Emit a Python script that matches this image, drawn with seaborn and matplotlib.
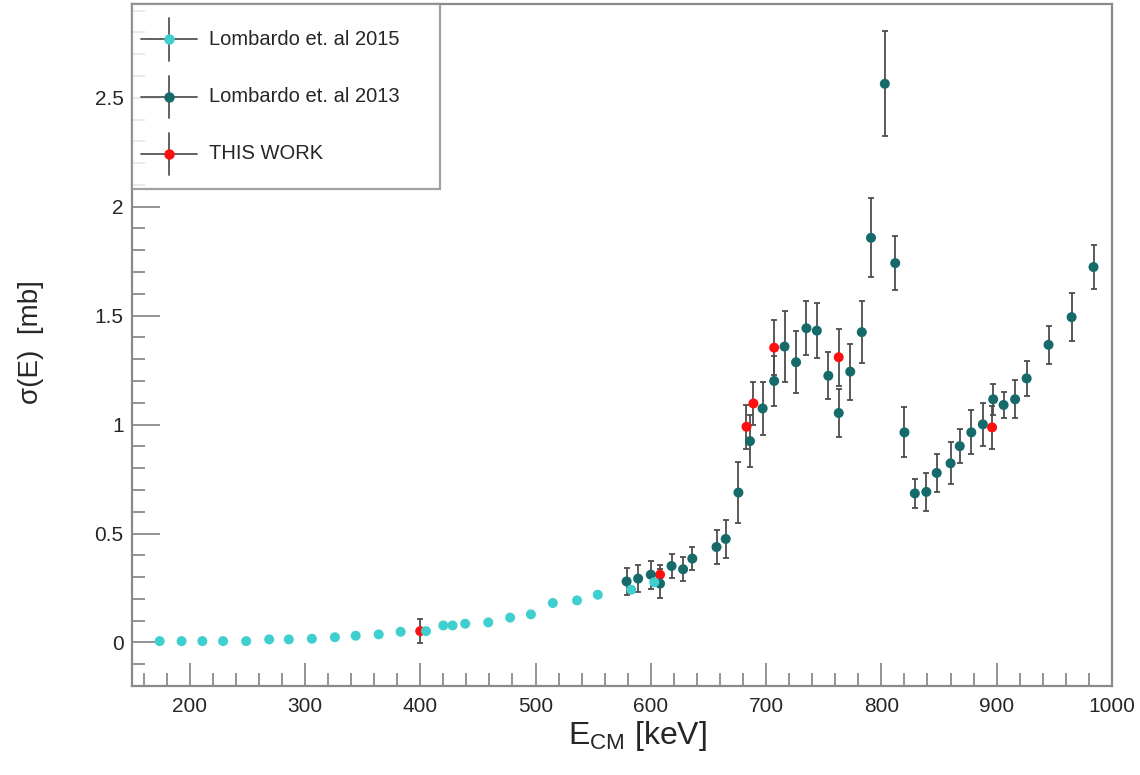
import numpy as np
import pandas as pd
import matplotlib
matplotlib.use("Agg")
import matplotlib.pyplot as plt
from matplotlib.lines import Line2D
from matplotlib.legend_handler import HandlerBase
from matplotlib.ticker import MultipleLocator
import seaborn as sns

# ---- data: cross section sigma(E) in mb vs centre-of-mass energy in keV ----
# Lombardo et. al 2015
e_2015 = [174, 193, 211, 229, 249, 269, 286, 306, 326, 344, 364, 383,
          405, 420, 428, 439, 459, 478, 496, 515, 536, 554, 583, 603]
sig_2015 = [0.006, 0.006, 0.006, 0.006, 0.006, 0.014, 0.014, 0.017, 0.024, 0.031, 0.037, 0.049,
            0.052, 0.078, 0.078, 0.086, 0.092, 0.114, 0.129, 0.181, 0.193, 0.219, 0.242, 0.276]
err_2015 = [0.001, 0.001, 0.001, 0.001, 0.001, 0.002, 0.002, 0.002, 0.002, 0.003, 0.003, 0.004,
            0.004, 0.005, 0.005, 0.005, 0.006, 0.007, 0.008, 0.010, 0.011, 0.012, 0.013, 0.015]

# Lombardo et. al 2013
e_2013 = [579, 589, 600, 608, 618, 628, 636, 657, 665, 676, 686, 697, 707, 716,
          726, 735, 744, 754, 763, 773, 783, 791, 803, 812, 820, 829, 839, 848,
          860, 868, 878, 888, 897, 906, 916, 926, 945, 965, 984]
sig_2013 = [0.280, 0.293, 0.311, 0.270, 0.351, 0.336, 0.385, 0.438, 0.475, 0.688, 0.924, 1.074,
            1.200, 1.358, 1.286, 1.442, 1.431, 1.224, 1.053, 1.243, 1.424, 1.857, 2.564, 1.741,
            0.964, 0.684, 0.691, 0.778, 0.822, 0.901, 0.964, 1.001, 1.116, 1.090, 1.116, 1.212,
            1.366, 1.493, 1.723]
err_2013 = [0.063, 0.062, 0.065, 0.067, 0.057, 0.056, 0.054, 0.079, 0.088, 0.139, 0.120, 0.120,
            0.116, 0.161, 0.142, 0.123, 0.126, 0.107, 0.109, 0.128, 0.143, 0.182, 0.241, 0.123,
            0.115, 0.067, 0.088, 0.088, 0.097, 0.077, 0.101, 0.100, 0.070, 0.061, 0.088, 0.082,
            0.088, 0.110, 0.103]

# this work
e_this = [400, 608, 683, 689, 707, 763, 896]
sig_this = [0.052, 0.311, 0.990, 1.097, 1.353, 1.309, 0.987]
err_this = [0.056, 0.045, 0.100, 0.100, 0.126, 0.130, 0.097]

labels = ["Lombardo et. al 2015", "Lombardo et. al 2013", "THIS WORK"]
colors = ["#3fcfcf", "#166a6a", "#ff1010"]

# ---- style ----
sns.set_theme(style="white")
plt.rcParams["font.family"] = ["Liberation Sans", "DejaVu Sans"]
plt.rcParams["mathtext.fontset"] = "custom"
plt.rcParams["mathtext.rm"] = "Liberation Sans"

frame_col = "#8a8a8a"
text_col = "#262626"

fig = plt.figure(figsize=(11.4, 7.75), dpi=100)
ax = fig.add_axes([0.1158, 0.1148, 0.8596, 0.88])

frames = []
for lab, e, s, er in [(labels[2], e_this, sig_this, err_this),
                      (labels[1], e_2013, sig_2013, err_2013),
                      (labels[0], e_2015, sig_2015, err_2015)]:
    frames.append(pd.DataFrame({"E": e, "sigma": s, "err": er, "set": lab}))
df = pd.concat(frames, ignore_index=True)

ax.errorbar(df["E"], df["sigma"], yerr=df["err"], fmt="none",
            ecolor="#4d4d4d", elinewidth=1.3, capsize=2.2, capthick=1.3, zorder=2)
sns.scatterplot(data=df, x="E", y="sigma", hue="set",
                palette=dict(zip(labels, colors)), s=52, linewidth=0,
                legend=False, ax=ax, zorder=3)

ax.set_xlim(150, 1000)
ax.set_ylim(-0.2, 2.93)
ax.xaxis.set_major_locator(MultipleLocator(100))
ax.xaxis.set_minor_locator(MultipleLocator(20))
ax.yaxis.set_major_locator(MultipleLocator(0.5))
ax.yaxis.set_minor_locator(MultipleLocator(0.1))
ax.set_yticks([0, 0.5, 1, 1.5, 2, 2.5])
ax.set_yticklabels(["0", "0.5", "1", "1.5", "2", "2.5"])

ax.tick_params(axis="x", which="both", bottom=True, top=False)
ax.tick_params(axis="y", which="both", left=True, right=False)
ax.tick_params(axis="x", which="major", direction="in", length=16.5, width=1.3,
               color=frame_col, labelsize=15, pad=8, labelcolor=text_col)
ax.tick_params(axis="x", which="minor", direction="in", length=9.4, width=1.3, color=frame_col)
ax.tick_params(axis="y", which="major", direction="in", length=20, width=1.3,
               color=frame_col, labelsize=15, pad=6, labelcolor=text_col)
ax.tick_params(axis="y", which="minor", direction="in", length=9.4, width=1.3, color=frame_col)

for sp in ax.spines.values():
    sp.set_visible(True)
    sp.set_color(frame_col)
    sp.set_linewidth(1.6)

ax.set_xlabel(r"$\mathregular{E_{CM}}$ [keV]", fontsize=23, color=text_col)
ax.xaxis.set_label_coords(0.516, -0.048)
ax.set_ylabel("σ(E)  [mb]", fontsize=20, color=text_col)
ax.yaxis.set_label_coords(-0.09, 0.505)


class CrossHandler(HandlerBase):
    """Legend key drawn as an error cross with a filled dot in the centre."""

    def create_artists(self, legend, orig_handle, xdescent, ydescent,
                       width, height, fontsize, trans):
        cx = -xdescent + width / 2
        cy = -ydescent + height / 2
        col = orig_handle.get_markerfacecolor()
        hline = Line2D([-xdescent, -xdescent + width], [cy, cy],
                       color="#555555", lw=1.3, transform=trans)
        vline = Line2D([cx, cx], [cy - 0.4 * height, cy + 0.4 * height],
                       color="#555555", lw=1.3, transform=trans)
        dot = Line2D([cx], [cy], marker="o", ms=6.5, mfc=col, mec=col,
                     ls="none", transform=trans)
        return [hline, vline, dot]


handles = [Line2D([], [], marker="o", color=c, ls="none") for c in colors]
leg = ax.legend(handles, labels, handler_map={Line2D: CrossHandler()},
                loc="upper left", bbox_to_anchor=(0, 0, 0.314, 1), mode="expand",
                borderaxespad=0, fontsize=14.5, handlelength=2.8, handleheight=3.65,
                labelspacing=0.22, borderpad=0.45, handletextpad=0.55,
                frameon=True, fancybox=False, shadow=False)
leg.get_frame().set_edgecolor(frame_col)
leg.get_frame().set_linewidth(1.6)
for t in leg.get_texts():
    t.set_color(text_col)

fig.savefig("out.png", dpi=100)
